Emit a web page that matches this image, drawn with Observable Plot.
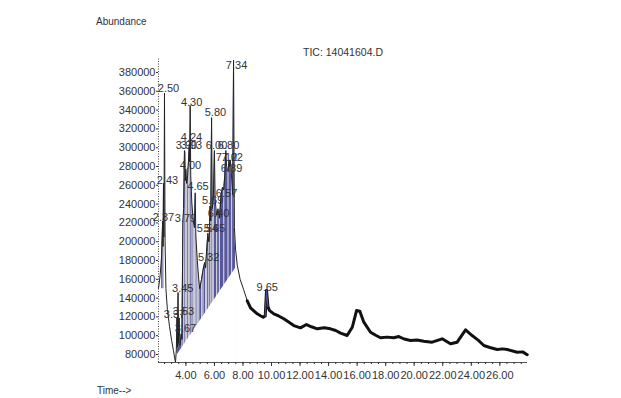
<!DOCTYPE html>
<html><head><meta charset="utf-8">
<script src="https://cdn.jsdelivr.net/npm/d3@7"></script>
<script src="https://cdn.jsdelivr.net/npm/@observablehq/plot@0.6"></script>
<style>
body{margin:0;background:#fff;}
#wrap{position:relative;width:621px;height:398px;font-family:"Liberation Sans",Arial,sans-serif;color:#333;overflow:hidden;}
#wrap svg{position:absolute;left:0;top:0;}
.lbl{position:absolute;font-size:10px;white-space:nowrap;line-height:1;}
</style></head><body>
<div id="wrap"></div>
<script>
// Retention time (min) and abundance of the TIC trace
const times = [2.08,2.20,2.30,2.37,2.40,2.43,2.46,2.50,2.54,2.60,2.70,2.85,3.00,3.13,3.27,
  3.33,3.37,3.40,3.45,3.49,3.53,3.58,3.62,3.67,3.72,3.79,3.84,3.90,3.93,3.96,4.00,4.05,4.12,4.18,4.24,4.27,4.30,4.34,4.42,4.52,4.60,4.65,4.70,4.80,4.90,4.97,
  5.10,5.20,5.32,5.38,5.45,5.54,5.60,5.65,5.69,5.74,5.80,5.85,5.92,6.00,6.05,6.15,6.25,6.35,6.47,6.57,6.65,6.72,6.80,6.85,6.89,6.95,7.02,7.07,7.12,7.20,7.28,7.34,7.40,7.48,
  7.60,7.80,8.05,8.30,8.53,8.80,9.00,9.25,9.42,9.56,9.65,9.75,9.85,10.16,10.50,10.86,11.20,11.56,12.03,12.45,12.80,13.20,13.70,14.13,14.50,14.84,15.30,15.66,15.96,16.19,16.47,16.94,17.30,17.64,18.10,18.57,18.92,19.30,19.74,20.20,20.67,21.26,21.96,22.54,23.01,23.60,24.06,24.50,24.88,25.30,25.82,26.20,26.52,27.22,27.60,27.92];
const abundance = [150000,165000,185000,222000,195000,262000,205000,358000,200000,150000,128000,110000,95000,84000,71500,
  85000,119000,88000,146000,92000,119000,90000,92000,102000,96000,220000,235000,297000,295000,265000,277000,262000,270000,285000,304000,285000,345000,270000,240000,222000,215000,252000,205000,180000,160000,150000,
  160000,170000,178000,172000,190000,209000,200000,210000,238000,222000,332000,235000,245000,297000,245000,228000,235000,225000,250000,258000,255000,270000,297000,280000,276000,275000,287000,280000,287000,270000,250000,393000,215000,192000,
  175000,160000,149000,137000,129700,126000,123300,121000,119700,121000,148100,131000,127000,123300,121000,118000,114500,110800,108400,111900,109500,107300,108500,107300,105500,102700,100200,109000,126800,126100,114400,103700,100500,97800,98500,97800,99100,96500,94900,95500,94100,93100,96700,91400,93100,106300,100200,95000,89600,87500,85300,86000,85300,82400,82800,79700];

// Integrated regions: start/end time and baseline abundance at each end
const intStart = [2.30, 3.40];
const intEnd   = [2.46, 7.48];
const baseStart = [150000, 79000];
const baseEnd   = [150000, 172500];
// Peak drop lines inside integrated regions
const dropTimes = [2.40, 3.72, 3.84, 3.96, 4.05, 4.18, 4.27, 4.42, 4.52, 4.60, 4.70, 4.80, 4.90, 5.10, 5.20, 5.38, 5.45, 5.60, 5.74, 5.85, 5.92, 6.15, 6.35, 6.65, 6.95, 7.20];
// Integrated small peak drawn as outline
const outlineStart = 9.56, outlineEnd = 9.75;

// Peak labels: text and where it sits
const labelText = ["2.50","2.43","2.37","3.37","3.45","3.53","3.67","3.79","3.90","3.93","4.24","4.30","4.00","4.65","5.32","5.54","5.65","5.69","5.80","6.00","6.80","7.12","7.02","6.89","6.57","6.40","7.34","9.65"];
const labelT    = [2.78,2.71,2.43,3.20,3.78,3.83,3.97,3.97,4.04,4.39,4.39,4.40,4.32,4.85,5.59,5.51,6.00,5.87,6.07,6.15,6.99,6.85,7.25,7.20,6.85,6.29,7.55,9.70];
const labelV    = [363000,265100,225700,122500,150200,125700,107700,224700,302300,302300,310800,348000,281000,258700,183200,214000,214000,243800,337400,302300,302300,289600,289600,277900,251300,230000,387400,151300];

// Axis ticks
const yTicks = [80000,100000,120000,140000,160000,180000,200000,220000,240000,260000,280000,300000,320000,340000,360000,380000];
const xTicks = [4,6,8,10,12,14,16,18,20,22,24,26];

const xMin = 2.08, xMax = 27.94, yMin = 71500, yMax = 394900;
const xMinor = d3.range(2.5, 27.95, 0.5);
const pad = 0.04;

const trace = times.map((t, i) => ({t, v: abundance[i]}));
const marks = [];
for (let k = 0; k < intStart.length; k++) {
  const seg = trace.filter(d => d.t >= intStart[k] && d.t <= intEnd[k]);
  marks.push(Plot.areaY(seg, {x: "t", y1: yMin, y2: "v", fill: "#3a3a8a", fillOpacity: 0.85}));
}
marks.push(Plot.ruleX(trace.filter(d => dropTimes.includes(d.t)), {x: "t", y1: yMin, y2: "v", stroke: "#cdcdd9", strokeWidth: 1.2}));
for (let k = 0; k < intStart.length; k++) {
  marks.push(Plot.areaY([{t: intStart[k] - pad, v: baseStart[k]}, {t: intEnd[k] + pad, v: baseEnd[k]}], {x: "t", y1: yMin - 2000, y2: "v", fill: "white"}));
}
marks.push(Plot.line(trace.filter(d => d.t <= 8.4), {x: "t", y: "v", stroke: "#222", strokeWidth: 1}));
marks.push(Plot.line(trace.filter(d => d.t >= 8.3), {x: "t", y: "v", stroke: "#111", strokeWidth: 3, strokeLinejoin: "round"}));
marks.push(Plot.line(trace.filter(d => d.t >= outlineStart && d.t <= outlineEnd), {x: "t", y: "v", stroke: "#4a4a9a", strokeWidth: 1.2}));
const labels = labelText.map((s, i) => ({s, t: labelT[i], v: labelV[i]}));
marks.push(Plot.text(labels, {x: "t", y: "v", text: "s", fontSize: 11, fill: "#333"}));
marks.push(Plot.ruleX([xMin], {y1: yMin, y2: yMax, stroke: "#444", strokeDasharray: "1,1.5"}));
marks.push(Plot.ruleY([yMin], {x1: xMin, x2: xMax, stroke: "#555"}));
marks.push(Plot.axisY({ticks: yTicks, tickSize: 2, tickPadding: 1, tickFormat: d => String(d), label: null, fontSize: 11}));
marks.push(Plot.axisX({ticks: xTicks, tickSize: 4, tickPadding: 5, tickFormat: d => d.toFixed(2), label: null, fontSize: 11}));
marks.push(Plot.axisX({ticks: xMinor, tickSize: 2, tickFormat: () => "", label: null}));

const chart = Plot.plot({
  width: 621, height: 398,
  marginLeft: 158, marginRight: 94, marginTop: 58, marginBottom: 36,
  x: {domain: [xMin, xMax]},
  y: {domain: [yMin, yMax]},
  style: {fontFamily: "Liberation Sans, Arial, sans-serif", fontSize: "11px", color: "#333", background: "transparent"},
  marks
});
const wrap = document.getElementById("wrap");
wrap.appendChild(chart);
function addLabel(text, left, top, size) {
  const d = document.createElement("div");
  d.className = "lbl"; d.textContent = text;
  d.style.left = left + "px"; d.style.top = top + "px"; d.style.fontSize = size + "px";
  wrap.appendChild(d);
}
addLabel("Abundance", 96, 17, 10);
addLabel("TIC: 14041604.D", 303, 47, 10.5);
addLabel("Time-->", 97, 386, 10);
</script>
</body></html>
